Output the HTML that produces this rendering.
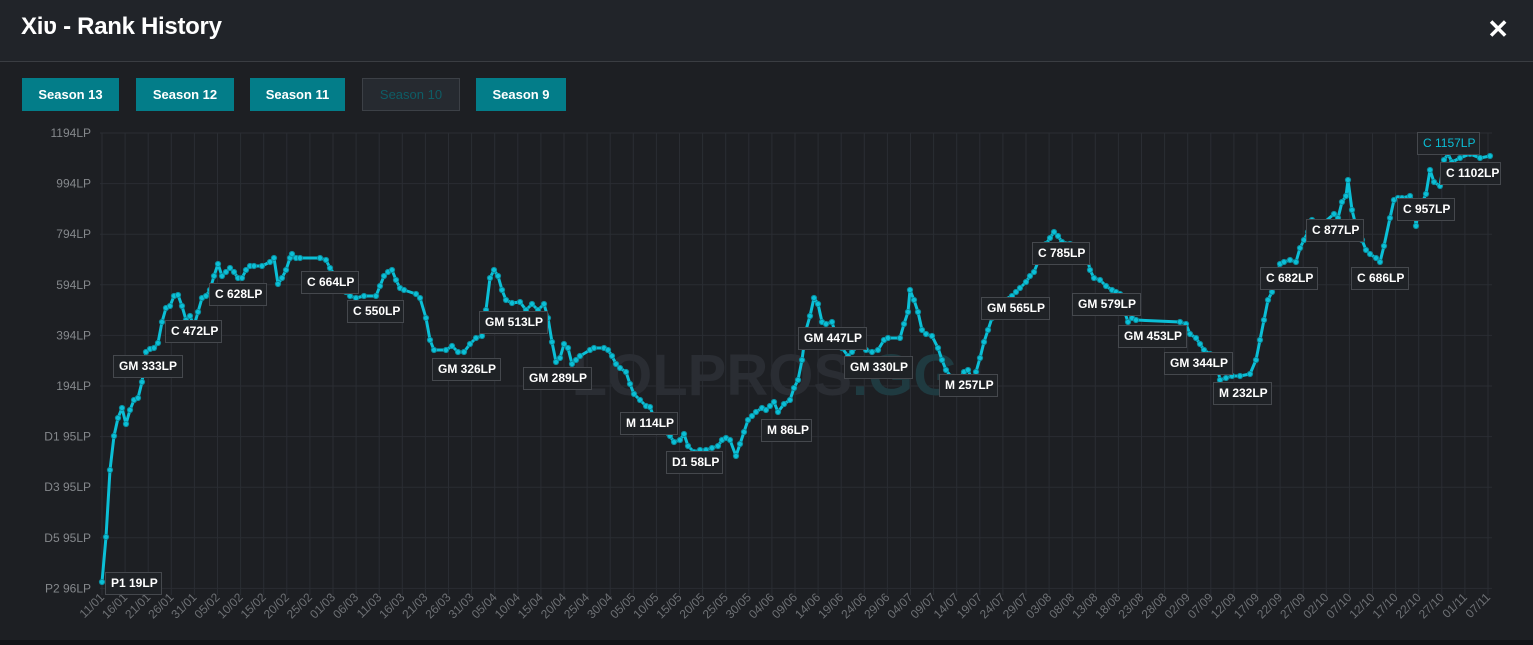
<!DOCTYPE html>
<html><head><meta charset="utf-8"><style>
html,body{margin:0;padding:0;width:1533px;height:645px;background:#1d1f23;overflow:hidden;font-family:"Liberation Sans",sans-serif}
.hdr{position:absolute;left:0;top:0;width:1533px;height:61px;background:#212429;border-bottom:1px solid #3a3d42}
.hdr h1{position:absolute;left:21px;top:13px;margin:0;font-size:24px;font-weight:bold;color:#fff;letter-spacing:-0.3px}
.x{position:absolute;right:24px;top:14px;color:#fff;font-size:26px;font-weight:bold}
.btn{position:absolute;top:78px;height:33px;line-height:33px;text-align:center;font-size:13px;font-weight:bold;color:#fff;background:#037d89}
.btn.off{background:#262a30;border:1px solid #3c4046;color:#0e5d66;font-weight:normal;height:31px;line-height:31px}
.foot{position:absolute;left:0;top:640px;width:1533px;height:5px;background:#121317}
</style></head><body>
<div class="hdr"><h1>Xiʋ - Rank History</h1><div class="x">✕</div></div>
<div class="btn" style="left:22px;width:97px">Season 13</div>
<div class="btn" style="left:136px;width:98px">Season 12</div>
<div class="btn" style="left:250px;width:95px">Season 11</div>
<div class="btn off" style="left:362px;width:96px">Season 10</div>
<div class="btn" style="left:476px;width:90px">Season 9</div>
<svg width="1533" height="645" style="position:absolute;left:0;top:0" xmlns="http://www.w3.org/2000/svg">
<g id="grid" stroke="#2a2d33" stroke-width="1"></g>
<text x="765" y="395" font-size="58" font-weight="bold" fill="#2a2d33" text-anchor="middle" font-family="Liberation Sans,sans-serif">LOLPROS<tspan fill="#1f3a40">.GG</tspan></text>
<g id="yl" font-size="12" fill="#85888c" text-anchor="end"></g>
<g id="xl" font-size="12" fill="#6e7175"></g>
<polyline id="ln" fill="none" stroke="#0bbfd6" stroke-width="3" stroke-linejoin="round"/>
<g id="pts" fill="#0bbfd6" stroke="#0a8fa0" stroke-width="1"></g>
<g id="lb" font-size="12" font-weight="bold" fill="#fff"></g>
</svg>
<div class="foot"></div>
<script>
var ns="http://www.w3.org/2000/svg";
function el(t,a,p,txt){var e=document.createElementNS(ns,t);for(var k in a)e.setAttribute(k,a[k]);if(txt)e.textContent=txt;document.getElementById(p).appendChild(e);return e;}
var yt=["1194LP","994LP","794LP","594LP","394LP","194LP","D1 95LP","D3 95LP","D5 95LP","P2 96LP"];
for(var i=0;i<10;i++){var y=133+i*50.6;el("line",{x1:100,x2:1492,y1:y,y2:y},"grid");el("text",{x:91,y:y+4},"yl",yt[i]);}
var dl="11/01 16/01 21/01 26/01 31/01 05/02 10/02 15/02 20/02 25/02 01/03 06/03 11/03 16/03 21/03 26/03 31/03 05/04 10/04 15/04 20/04 25/04 30/04 05/05 10/05 15/05 20/05 25/05 30/05 04/06 09/06 14/06 19/06 24/06 29/06 04/07 09/07 14/07 19/07 24/07 29/07 03/08 08/08 13/08 18/08 23/08 28/08 02/09 07/09 12/09 17/09 22/09 27/09 02/10 07/10 12/10 17/10 22/10 27/10 01/11 07/11".split(" ");
for(var i=0;i<dl.length;i++){var x=102+i*23.1;el("line",{x1:x,x2:x,y1:133,y2:595},"grid");el("text",{x:x+3,y:598,transform:"rotate(-45 "+(x+3)+" 598)","text-anchor":"end"},"xl",dl[i]);}
var P=[102,582,106,537,110,470,114,436,118,418,122,408,126,424,130,410,134,400,138,398,142,382,146,352,150,349,154,348,158,343,162,322,166,308,170,306,174,296,178,295,182,306,186,320,190,316,194,326,198,312,202,298,206,296,210,290,214,276,218,264,222,276,226,272,230,268,234,272,238,278,242,278,246,270,250,266,254,266,262,266,270,262,274,258,278,284,282,278,286,270,290,258,292,254,296,258,300,258,320,258,326,260,330,268,346,292,350,296,356,298,364,296,376,296,380,286,384,276,388,272,392,270,396,280,400,288,404,290,416,294,420,298,426,318,430,340,434,350,446,350,452,346,458,352,464,352,470,344,476,338,482,336,486,310,490,278,494,270,498,276,502,290,506,300,512,303,520,302,526,310,532,304,538,310,544,304,548,318,552,342,556,362,560,358,564,344,568,348,572,364,576,360,580,356,590,350,594,348,604,348,608,350,612,356,616,364,620,368,626,372,630,384,634,394,640,400,646,406,650,407,658,428,664,432,670,436,674,442,680,440,684,434,688,446,694,452,700,450,706,450,712,448,718,446,722,440,726,438,730,440,736,456,740,444,744,432,748,420,752,416,756,412,762,408,766,410,770,406,774,402,778,412,784,404,790,400,794,388,798,380,802,360,806,330,810,316,814,298,818,304,822,322,826,324,832,322,838,342,842,348,848,356,852,352,858,346,862,344,866,350,872,352,878,350,884,340,888,338,900,338,904,324,908,312,910,290,914,300,918,312,922,330,926,334,932,336,938,348,942,360,946,370,952,378,958,380,964,372,968,370,972,380,976,372,980,358,984,342,988,330,992,318,996,310,1000,302,1012,296,1016,292,1020,288,1026,282,1030,276,1034,272,1038,262,1042,250,1046,244,1050,238,1054,232,1058,236,1062,242,1070,244,1082,246,1086,252,1090,270,1094,278,1100,280,1106,286,1112,290,1116,292,1120,294,1124,310,1128,322,1132,318,1136,320,1180,322,1186,324,1190,334,1196,338,1200,344,1204,350,1210,354,1216,360,1220,380,1226,378,1232,376,1240,376,1250,374,1256,360,1260,340,1264,320,1268,300,1272,292,1280,264,1284,262,1290,260,1296,262,1300,248,1304,240,1308,232,1312,220,1316,230,1320,226,1334,214,1338,218,1342,202,1346,196,1348,180,1352,210,1356,226,1362,240,1366,250,1370,254,1376,258,1380,262,1384,246,1390,218,1394,200,1398,198,1402,198,1410,196,1414,202,1416,226,1418,212,1426,194,1430,170,1434,182,1440,186,1444,160,1448,154,1452,162,1460,158,1470,154,1480,158,1490,156];
var s="";for(var i=0;i<P.length;i+=2){s+=P[i]+","+P[i+1]+" ";el("circle",{cx:P[i],cy:P[i+1],r:2.6},"pts");}
document.getElementById("ln").setAttribute("points",s);
var L=[["P1 19LP",105,572,56],["GM 333LP",113,355,69],["C 472LP",165,320,56],["C 628LP",209,283,57],["C 664LP",301,271,57],["C 550LP",347,300,56],["GM 326LP",432,358,68],["GM 513LP",479,311,68],["GM 289LP",523,367,68],["M 114LP",620,412,57],["D1 58LP",666,451,56],["M 86LP",761,419,50],["GM 447LP",798,327,68],["GM 330LP",844,356,68],["M 257LP",939,374,58],["GM 565LP",981,297,68],["C 785LP",1032,242,57],["GM 579LP",1072,293,68],["GM 453LP",1118,325,68],["GM 344LP",1164,352,68],["M 232LP",1213,382,58],["C 682LP",1260,267,57],["C 877LP",1306,219,57],["C 686LP",1351,267,57],["C 957LP",1397,198,57],["C 1157LP",1417,132,62],["C 1102LP",1440,162,60]];
L.forEach(function(l){el("rect",{x:l[1]+0.5,y:l[2]+0.5,width:l[3],height:22,fill:"#1f2226",stroke:"#45484d"},"lb");var t=el("text",{x:l[1]+6,y:l[2]+15},"lb",l[0]);if(l[0]=="C 1157LP"){t.setAttribute("fill","#0bbfd6");t.setAttribute("font-weight","normal");}});
</script>
</body></html>
